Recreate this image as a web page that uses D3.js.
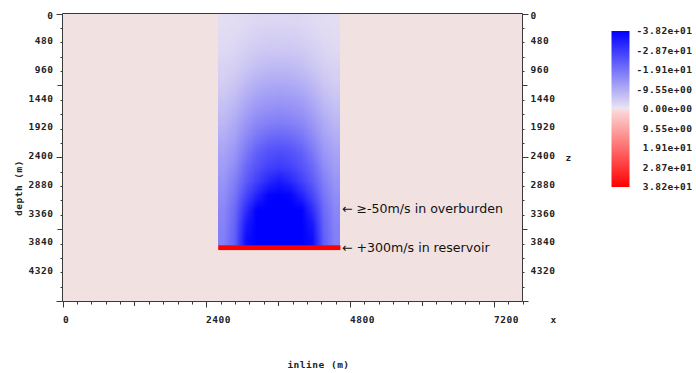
<!DOCTYPE html>
<html>
<head>
<meta charset="utf-8">
<script src="https://cdn.jsdelivr.net/npm/d3@7"></script>
<style>
  html, body { margin: 0; padding: 0; background: #fff; }
  svg text.mono { font-family: "DejaVu Sans Mono", monospace; font-size: 9.5px; font-weight: bold; fill: #222; letter-spacing: 0.5px; }
  svg text.note { font-family: "DejaVu Sans", sans-serif; font-size: 12.6px; fill: #111; }
</style>
</head>
<body>
<svg id="chart" width="696" height="373"></svg>
<script>
// ---- model extents and axis ticks (metres) ----
const inlineExtent = [0, 7680];
const depthExtent = [0, 4800];
const inlineTicks = [0, 2400, 4800, 7200];
const depthTicks = [0, 480, 960, 1440, 1920, 2400, 2880, 3360, 3840, 4320];

// ---- colour scale (velocity perturbation, m/s), clipped ----
const clipRange = [-38.2, 38.2];
const colorTicks = [-38.2, -28.7, -19.1, -9.55, 0, 9.55, 19.1, 28.7, 38.2];
const colorTickLabels = ["-3.82e+01", "-2.87e+01", "-1.91e+01", "-9.55e+00", "0.00e+00",
                         "9.55e+00", "1.91e+01", "2.87e+01", "3.82e+01"];

// ---- perturbation model ----
const backgroundValue = 0;
const overburdenInline = [2600, 4640];
const overburdenDepth = [0, 3870];
const reservoirDepth = [3870, 3950];
const reservoirValue = 300;

// overburden slowdown, cell values (rows top -> bottom, columns left -> right)
const overburdenGrid = [
  [ -1.3,  -1.5,  -2.0,  -2.3,  -2.5,  -2.5,  -2.5,  -2.3,  -2.0,  -1.5,  -1.3],
  [ -1.7,  -2.0,  -2.7,  -3.3,  -3.7,  -3.8,  -3.7,  -3.3,  -2.7,  -2.0,  -1.7],
  [ -2.1,  -2.7,  -3.8,  -4.6,  -4.9,  -5.0,  -4.9,  -4.6,  -3.8,  -2.7,  -2.1],
  [ -3.0,  -3.7,  -5.0,  -6.3,  -6.9,  -7.1,  -6.9,  -6.3,  -5.0,  -3.7,  -3.0],
  [ -3.8,  -4.9,  -6.8,  -8.3,  -9.2,  -9.4,  -9.2,  -8.3,  -6.8,  -4.9,  -3.8],
  [ -5.0,  -6.5,  -8.8, -10.8, -11.7, -12.0, -11.7, -10.8,  -8.8,  -6.5,  -5.0],
  [ -6.4,  -8.2, -11.0, -13.1, -14.1, -14.5, -14.1, -13.1, -11.0,  -8.2,  -6.4],
  [ -7.8,  -9.9, -13.1, -15.7, -17.0, -17.4, -17.0, -15.7, -13.1,  -9.9,  -7.8],
  [ -9.4, -11.5, -15.5, -18.8, -20.7, -21.4, -20.7, -18.8, -15.5, -11.5,  -9.4],
  [-10.9, -13.3, -18.1, -22.3, -24.6, -25.4, -24.6, -22.3, -18.1, -13.3, -10.9],
  [-12.1, -15.0, -20.8, -24.5, -27.0, -28.3, -27.0, -24.5, -20.8, -15.0, -12.1],
  [-13.5, -17.1, -23.0, -27.5, -31.5, -34.0, -31.5, -27.5, -23.0, -17.1, -13.5],
  [-14.6, -19.0, -26.5, -32.5, -37.5, -41.5, -37.5, -32.5, -26.5, -19.0, -14.6],
  [-15.7, -20.7, -30.5, -41.0, -46.0, -48.0, -46.0, -41.0, -30.5, -20.7, -15.7],
  [-16.5, -21.8, -34.0, -44.6, -48.4, -49.1, -48.4, -44.6, -34.0, -21.8, -16.5],
  [-17.0, -22.5, -36.0, -46.0, -48.8, -49.6, -48.8, -46.0, -36.0, -22.5, -17.0]
];

const annotations = [
  { text: "\u2190 \u2265-50m/s in overburden", depth: 3260 },
  { text: "\u2190 +300m/s in reservoir", depth: 3900 }
];

// ---- colour map: blue (negative) -> pale -> red (positive) ----
const negRamp = d3.interpolateRgb("rgb(236,230,242)", "rgb(0,0,255)");
const posRamp = d3.interpolateRgb("rgb(252,220,220)", "rgb(255,0,0)");
const zeroColour = "rgb(241,225,225)";
function colour(v) {
  const c = Math.max(clipRange[0], Math.min(clipRange[1], v));
  if (c < 0) return negRamp(c / clipRange[0]);
  if (c > 0) return posRamp(c / clipRange[1]);
  return zeroColour;
}

// ---- layout ----
const svg = d3.select("#chart");
const x = d3.scaleLinear().domain(inlineExtent).range([62.5, 522.5]);
const y = d3.scaleLinear().domain(depthExtent).range([13.5, 301]);
const frameL = 62.5, frameR = 522.5, frameT = 13.5, frameB = 301.5;
const axisColour = "#3a3a3a";

// background
svg.append("rect")
  .attr("x", frameL).attr("y", frameT)
  .attr("width", frameR - frameL).attr("height", frameB - frameT)
  .attr("fill", colour(backgroundValue));

// overburden anomaly: cell grid rendered to a bitmap, displayed smoothly
const nRows = overburdenGrid.length, nCols = overburdenGrid[0].length;
const x0 = x(overburdenInline[0]), x1 = x(overburdenInline[1]);
const y0 = y(overburdenDepth[0]), y1 = y(overburdenDepth[1]);
const small = document.createElement("canvas");
small.width = nCols; small.height = nRows;
const sctx = small.getContext("2d");
overburdenGrid.forEach((row, r) => row.forEach((v, c) => {
  sctx.fillStyle = colour(v);
  sctx.fillRect(c, r, 1, 1);
}));
const W = Math.round(x1 - x0), H = Math.round(y1 - y0);
const big = document.createElement("canvas");
big.width = W; big.height = H;
const bctx = big.getContext("2d");
bctx.imageSmoothingEnabled = true;
bctx.imageSmoothingQuality = "low";
bctx.drawImage(small, 0, 0, nCols, nRows, 0, 0, W, H);
svg.append("image")
  .attr("x", Math.round(x0)).attr("y", Math.round(y0))
  .attr("width", W).attr("height", H)
  .attr("preserveAspectRatio", "none")
  .attr("href", big.toDataURL());

// reservoir layer
svg.append("rect")
  .attr("x", x0).attr("y", y(reservoirDepth[0]))
  .attr("width", x1 - x0).attr("height", y(reservoirDepth[1]) - y(reservoirDepth[0]))
  .attr("fill", colour(reservoirValue));

// frame
const frame = svg.append("g").attr("stroke", axisColour).attr("stroke-width", 1).attr("fill", "none");
frame.append("line").attr("x1", frameL).attr("x2", frameR).attr("y1", frameT).attr("y2", frameT);
frame.append("line").attr("x1", frameL).attr("x2", frameR).attr("y1", frameB).attr("y2", frameB);
frame.append("line").attr("x1", frameL).attr("x2", frameL).attr("y1", frameT).attr("y2", frameB);
frame.append("line").attr("x1", frameR).attr("x2", frameR).attr("y1", frameT).attr("y2", frameB);

// inline ticks (bottom)
const xMinor = d3.range(inlineExtent[0], inlineExtent[1] + 1, 240);
frame.selectAll("line.xt").data(xMinor).join("line")
  .attr("x1", d => Math.round(x(d)) + 0.5).attr("x2", d => Math.round(x(d)) + 0.5)
  .attr("y1", frameB)
  .attr("y2", d => frameB + (d % 2400 === 0 ? 6 : d % 1200 === 0 ? 4.5 : 3));
svg.selectAll("text.xl").data(inlineTicks).join("text")
  .attr("class", "mono")
  .attr("x", d => Math.round(x(d)))
  .attr("y", 319.5).attr("dy", "0.35em")
  .text(d => d);

// depth ticks (left and right)
const yMinor = d3.range(depthExtent[0], depthExtent[1] + 1, 240);
const tickLen = d => (d % 2400 === 0 ? 6 : d % 1200 === 0 ? 5 : 2);
frame.selectAll("line.yl").data(yMinor).join("line")
  .attr("y1", d => Math.round(y(d)) + 0.5).attr("y2", d => Math.round(y(d)) + 0.5)
  .attr("x1", frameL).attr("x2", d => frameL - tickLen(d));
frame.selectAll("line.yr").data(yMinor).join("line")
  .attr("y1", d => Math.round(y(d)) + 0.5).attr("y2", d => Math.round(y(d)) + 0.5)
  .attr("x1", frameR).attr("x2", d => frameR + tickLen(d));
const labelY = d => Math.max(y(d) - 1.5, 16);
svg.selectAll("text.yl").data(depthTicks).join("text")
  .attr("class", "mono").attr("text-anchor", "end")
  .attr("x", 53.5).attr("y", labelY).attr("dy", "0.35em")
  .text(d => d);
svg.selectAll("text.yr").data(depthTicks).join("text")
  .attr("class", "mono")
  .attr("x", 530.5).attr("y", labelY).attr("dy", "0.35em")
  .text(d => d);

// axis titles
svg.append("text").attr("class", "mono").attr("text-anchor", "middle")
  .attr("transform", "translate(19,188) rotate(-90)").attr("dy", "0.35em")
  .text("depth (m)");
svg.append("text").attr("class", "mono").attr("text-anchor", "middle")
  .attr("x", 318.5).attr("y", 365).attr("dy", "0.35em")
  .text("inline (m)");
svg.append("text").attr("class", "mono").attr("x", 550.5).attr("y", 319.5).attr("dy", "0.35em").text("x");
svg.append("text").attr("class", "mono").attr("x", 565.5).attr("y", 157.5).attr("dy", "0.35em").text("z");

// annotations
svg.selectAll("text.note").data(annotations).join("text")
  .attr("class", "note")
  .attr("x", x1 + 1.5).attr("y", d => y(d.depth)).attr("dy", "0.35em")
  .text(d => d.text);

// colour bar
const cb = d3.scaleLinear().domain(clipRange).range([31, 187]);
const cbSteps = d3.range(0, 156);
svg.append("g").selectAll("rect").data(cbSteps).join("rect")
  .attr("x", 611.5).attr("width", 18)
  .attr("y", i => 31 + i).attr("height", 1)
  .attr("fill", i => colour(cb.invert(31 + i + 0.5)));
svg.selectAll("text.cbl").data(colorTicks).join("text")
  .attr("class", "mono").attr("text-anchor", "end")
  .attr("x", 692.5).attr("y", d => cb(d)).attr("dy", "0.35em")
  .text((d, i) => colorTickLabels[i]);
</script>
</body>
</html>
